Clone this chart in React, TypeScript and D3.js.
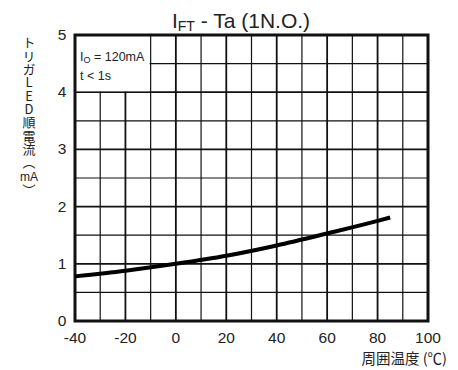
import * as d3 from "d3"

const tempTicks = [-40, -20, 0, 20, 40, 60, 80, 100]
const currentTicks = [0, 1, 2, 3, 4, 5]
const temps = [-40, -20, 0, 20, 40, 60, 80, 85]
const iftValues = [0.78, 0.88, 1.0, 1.14, 1.32, 1.53, 1.75, 1.81]

const W = 458
const H = 370
const margin = { top: 35, right: 30, bottom: 49, left: 75 }

export default function App() {
  const innerW = W - margin.left - margin.right
  const innerH = H - margin.top - margin.bottom
  const x = d3.scaleLinear().domain([-40, 100]).range([0, innerW])
  const y = d3.scaleLinear().domain([0, 5]).range([innerH, 0])

  const vLines = d3.range(-40, 101, 10)
  const hLines = d3.range(0, 5.01, 0.5)

  const line = d3
    .line<number>()
    .x((_, i) => x(temps[i]))
    .y((d) => y(d))
    .curve(d3.curveMonotoneX)

  const jp = "'Noto Sans CJK JP', sans-serif"
  const latin = "'Liberation Sans', Arial, sans-serif"
  const vertical = { writingMode: "vertical-rl", textOrientation: "upright" } as any

  return (
    <svg width={W} height={H} style={{ position: "absolute", left: 0, top: 0 }}>
      <rect width={W} height={H} fill="#fff" />
      <text x={241} y={28} textAnchor="middle" fontFamily={latin} fontSize={21} fill="#222">
        I<tspan fontSize={14} dy={3}>FT</tspan>
        <tspan dy={-3}> - Ta (1N.O.)</tspan>
      </text>
      <g transform={`translate(${margin.left},${margin.top})`}>
        {vLines.map((v) => (
          <line
            key={"v" + v}
            x1={x(v)}
            x2={x(v)}
            y1={0}
            y2={innerH}
            stroke="#111"
            strokeWidth={v % 20 === 0 ? 1.8 : 1.2}
          />
        ))}
        {hLines.map((v) => (
          <line
            key={"h" + v}
            x1={0}
            x2={innerW}
            y1={y(v)}
            y2={y(v)}
            stroke="#111"
            strokeWidth={Number.isInteger(v) ? 1.8 : 1.2}
          />
        ))}
        <rect x={x(-40) + 1} y={y(5) + 1} width={x(-10) - x(-40) - 2} height={y(4) - y(5) - 2} fill="#fff" />
        <text x={x(-40) + 5} y={y(5) + 26} fontFamily={latin} fontSize={12.5} fill="#222">
          I<tspan fontSize={9} dy={2}>O</tspan>
          <tspan dy={-2}> = 120mA</tspan>
        </text>
        <text x={x(-40) + 5} y={y(5) + 45} fontFamily={latin} fontSize={12.5} fill="#222">
          t &lt; 1s
        </text>
        <rect x={0} y={0} width={innerW} height={innerH} fill="none" stroke="#111" strokeWidth={3} />
        <path d={line(iftValues) || ""} fill="none" stroke="#000" strokeWidth={4} />
        {currentTicks.map((v) => (
          <text key={"yt" + v} x={-13} y={y(v) + 5} textAnchor="middle" fontFamily={latin} fontSize={15.5} fill="#222">
            {v}
          </text>
        ))}
        {tempTicks.map((v) => (
          <text key={"xt" + v} x={x(v)} y={innerH + 22} textAnchor="middle" fontFamily={latin} fontSize={15.5} fill="#222">
            {v}
          </text>
        ))}
      </g>
      <text x={447} y={364} textAnchor="end" fontFamily={jp} fontSize={14.5} fill="#222">
        周囲温度 (℃)
      </text>
      {/* vertical y label: stacked glyphs, "mA" kept horizontal */}
      <text x={29} y={36} fontFamily={jp} fontSize={13} fill="#222" letterSpacing={0.3} style={vertical}>
        トリガLED順電流︵
      </text>
      <text x={29} y={180.5} textAnchor="middle" fontFamily={latin} fontSize={12} fill="#222">
        mA
      </text>
      <text x={29} y={183.5} fontFamily={jp} fontSize={13} fill="#222" style={vertical}>
        ︶
      </text>
    </svg>
  )
}
